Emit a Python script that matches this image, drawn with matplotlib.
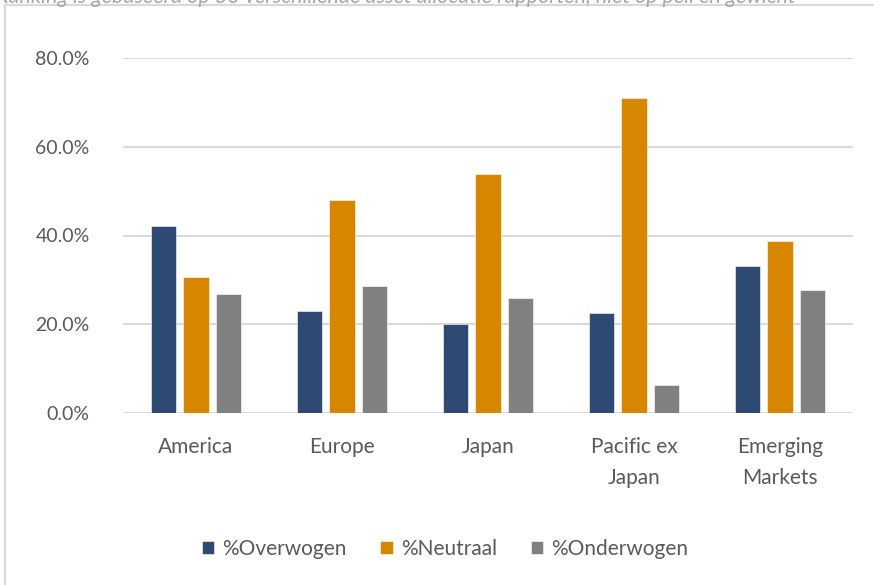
import matplotlib
matplotlib.use('Agg')
import matplotlib.pyplot as plt
import numpy as np

plt.rcParams['font.family'] = ['Lato', 'DejaVu Sans']

# data
regions = ['America', 'Europe', 'Japan', 'Pacific ex\nJapan', 'Emerging\nMarkets']
overwogen = [42.2, 23.0, 20.0, 22.5, 33.2]
neutraal = [30.7, 48.0, 53.9, 71.0, 38.8]
onderwogen = [26.8, 28.7, 25.9, 6.3, 27.7]
series_names = ['%Overwogen', '%Neutraal', '%Onderwogen']
yticks = [0, 20, 40, 60, 80]

colors = ['#2E4A72', '#D68600', '#808080']
txt = '#595959'
grid_c = '#D9D9D9'

fig = plt.figure(figsize=(8.74, 5.85), dpi=100)

# outer frame of the chart area (top and left edge visible)
fig.add_artist(plt.Line2D([5/874, 5/874], [0, 1 - 5/585], color=grid_c, lw=1.5))
fig.add_artist(plt.Line2D([5/874, 1], [1 - 5/585, 1 - 5/585], color=grid_c, lw=1.5))

# caption above the chart, cut off by the image edge
fig.text(-0.005, 1.005, 'Ranking is gebaseerd op 30 verschillende asset allocatie rapporten, niet op peil en gewicht',
         fontsize=15.5, style='italic', color='#A6A6A6', ha='left', va='center')

ax = fig.add_axes([123/874, 1 - 413.3/585, 730/874, (413.3 - 57.7)/585])

x = np.arange(len(regions))
w = 0.173
step = 0.222
for i, (vals, name) in enumerate(zip([overwogen, neutraal, onderwogen], series_names)):
    ax.bar(x + (i - 1) * step, vals, w, color=colors[i], label=name,
           edgecolor='white', linewidth=0.4, zorder=3)

ax.set_xlim(-0.5, len(regions) - 0.5)
ax.set_ylim(0, 80)
ax.set_yticks(yticks)
ax.set_yticklabels(['%.1f%%' % v for v in yticks])
ax.yaxis.grid(True, color=grid_c, lw=1.5, zorder=0)
ax.set_xticks(x)
ax.set_xticklabels(regions, linespacing=1.7)
ax.tick_params(axis='both', length=0, colors=txt)
ax.tick_params(axis='y', pad=24, labelsize=14)
ax.tick_params(axis='x', pad=17, labelsize=15)
for s in ax.spines.values():
    s.set_visible(False)

leg = fig.legend(loc='center', bbox_to_anchor=(445/874, 1 - 549/585), ncol=3, frameon=False,
                 fontsize=15, handlelength=0.6, handleheight=0.6, handletextpad=0.4,
                 columnspacing=1.6)
for t in leg.get_texts():
    t.set_color(txt)

fig.savefig('out.png', dpi=100)
